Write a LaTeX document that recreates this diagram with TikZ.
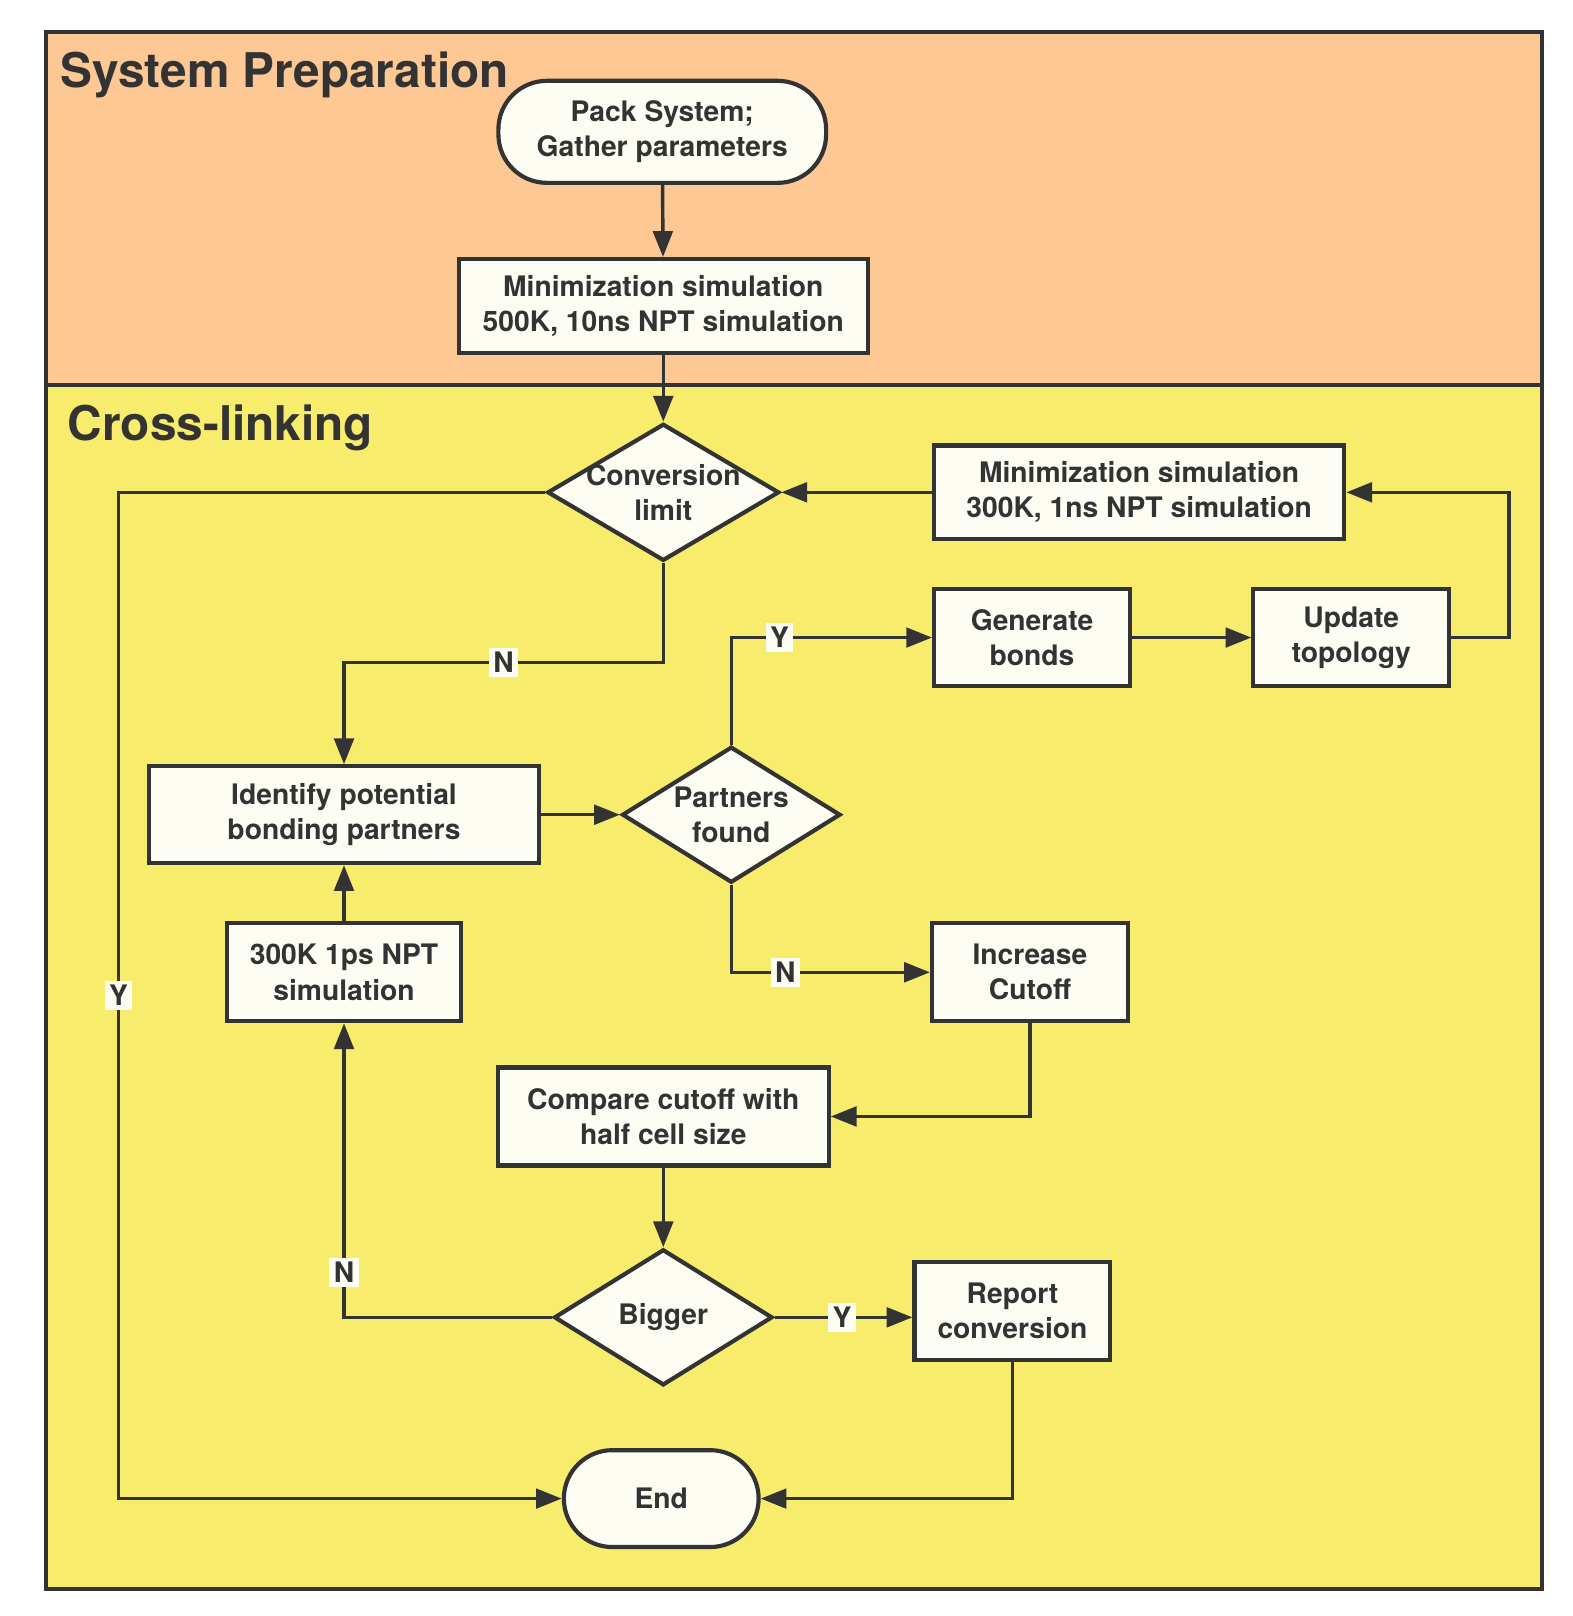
\documentclass[tikz,border=0pt]{standalone}
\usepackage{fontspec}
\setmainfont{TeX Gyre Heros}
\usetikzlibrary{arrows.meta}
\usetikzlibrary{shapes.geometric}

\definecolor{prepcol}{HTML}{FDC894}
\definecolor{crosscol}{HTML}{F8EC6C}
\definecolor{boxcol}{HTML}{FDFDF3}
\definecolor{inkcol}{HTML}{333333}

\tikzset{
  box/.style 2 args={draw=inkcol, fill=boxcol, line width=1.15pt, text=inkcol,
    minimum width=#1, minimum height=#2, inner sep=0pt, align=center,
    font=\fontsize{7.8}{9.7}\selectfont\bfseries},
  pill/.style 2 args={box={#1}{#2}, rounded corners=0.47cm},
  decision/.style 2 args={diamond, draw=inkcol, fill=boxcol, line width=1.15pt,
    minimum width=#1, minimum height=#2, inner sep=0pt},
  inside/.style={text=inkcol, align=center, font=\fontsize{7.8}{9.7}\selectfont\bfseries},
  arr/.style={draw=inkcol, line width=0.95pt, -{Triangle[length=0.25cm, width=0.19cm]}},
  yn/.style={fill=boxcol, inner sep=1.2pt, text=inkcol,
    font=\fontsize{7.8}{8}\selectfont\bfseries},
  title/.style={anchor=base west, text=inkcol, inner sep=0pt,
    font=\fontsize{13.2}{15}\selectfont\bfseries}
}

\begin{document}
\begin{tikzpicture}[x=0.01cm, y=-0.01cm]
  \useasboundingbox (0,0) rectangle (1527,1569);
  % the two stages
  \fill[prepcol] (45,31) rectangle (1497,374);
  \fill[crosscol] (45,374) rectangle (1497,1543);
  \draw[inkcol, line width=1.15pt] (45,31) rectangle (1497,1543);
  \draw[inkcol, line width=1.15pt] (45,374) -- (1497,374);
  \node[title] (prep) at (58,85) {System Preparation};
  \node[title] (cross) at (65,428) {Cross-linking};

  % boxes
  \node[pill={3.18cm}{0.99cm}] (pack) at (643,128) {Pack System;\\Gather parameters};
  \node[box={3.97cm}{0.91cm}] (min1) at (644,297) {Minimization simulation\\500K, 10ns NPT simulation};
  \node[decision={2.25cm}{1.33cm}] (conv) at (644,478) {};
  \node[inside] at (conv.center) {Conversion\\limit};
  \node[box={3.98cm}{0.91cm}] (min2) at (1106,478) {Minimization simulation\\300K, 1ns NPT simulation};
  \node[box={1.9cm}{0.94cm}] (generate) at (1002,619) {Generate\\bonds};
  \node[box={1.9cm}{0.94cm}] (update) at (1312,619) {Update\\topology};
  \node[box={3.78cm}{0.94cm}] (identify) at (334,791) {Identify potential\\bonding partners};
  \node[decision={2.12cm}{1.32cm}] (partners) at (710,791) {};
  \node[inside] at (partners.center) {Partners\\found};
  \node[box={2.27cm}{0.95cm}] (sim300) at (334,944) {300K 1ps NPT\\simulation};
  \node[box={1.9cm}{0.95cm}] (increase) at (1000,944) {Increase\\Cutoff};
  \node[box={3.21cm}{0.95cm}] (compare) at (644,1084) {Compare cutoff with\\half cell size};
  \node[decision={2.12cm}{1.32cm}] (bigger) at (644,1279) {};
  \node[inside] at (bigger.center) {Bigger};
  \node[box={1.9cm}{0.95cm}] (report) at (983,1273) {Report\\conversion};
  \node[pill={1.89cm}{0.94cm}] (end) at (642,1455) {End};

  \coordinate (nbend) at (334,643);
  \coordinate (yleft) at (115,1455);

  % connectors
  \draw[arr] (pack) -- (min1);
  \draw[arr] (min1) -- (conv);
  \draw[arr] (min2) -- (conv.east);
  \draw[arr] (update.east) -- ++(56,0) |- (min2.east);
  \draw[arr] (conv.south) |- (nbend) node[yn, pos=0.75] {N} -- (identify.north);
  \draw[arr] (conv.west) -| (yleft) node[yn, pos=0.75] {Y} -- (end.west);
  \draw[arr] (identify.east) -- (partners.west);
  \draw[arr] (partners.north) |- (generate.west) node[yn, pos=0.62] {Y};
  \draw[arr] (generate) -- (update);
  \draw[arr] (partners.south) |- (increase.west) node[yn, pos=0.636] {N};
  \draw[arr] (increase.south) |- (compare.east);
  \draw[arr] (compare) -- (bigger);
  \draw[arr] (bigger.east) -- (report.west |- bigger.east) node[yn, pos=0.49] {Y};
  \draw[arr] (bigger.west) -| (sim300.south) node[yn, pos=0.576] {N};
  \draw[arr] (sim300) -- (identify);
  \draw[arr] (report.south) |- (end.east);
\end{tikzpicture}
\end{document}
